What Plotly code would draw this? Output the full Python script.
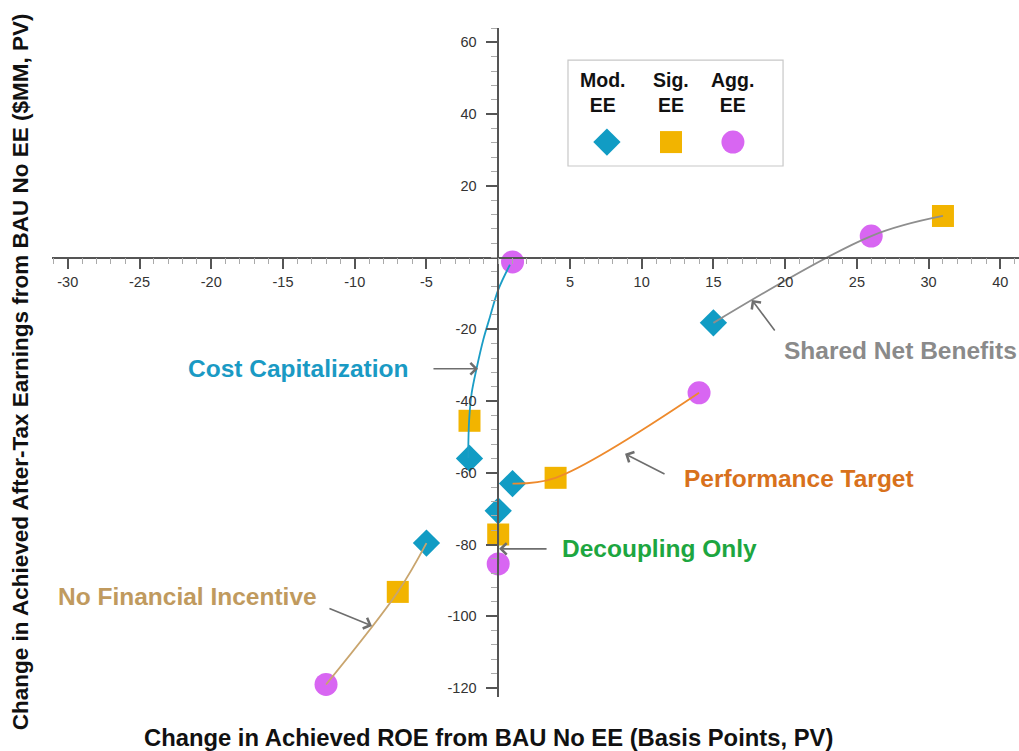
import plotly.graph_objects as go

# ---------------- data ----------------
scenarios = ["Shared Net Benefits", "Cost Capitalization", "Performance Target",
             "Decoupling Only", "No Financial Incentive"]
mod_roe = [15, -2, 1, 0, -5]
mod_earn = [-18.2, -56, -63, -70.6, -79.6]
sig_roe = [31, -2, 4, 0, -7]
sig_earn = [11.6, -45.5, -61.4, -77.2, -93.2]
agg_roe = [26, 1, 14, 0, -12]
agg_earn = [6, -1.2, -37.7, -85.4, -119]

# Cost Capitalization curve
costcap_curve_roe = [-2.08, -2.08, -2.01, -1.85, -1.5, -1.04, -0.57, 0.0, 0.82]
costcap_curve_earn = [-55.9, -51.8, -44.3, -37.8, -30.8, -22.9, -16.5, -9.0, -2.0]

x_tickvals = [-30, -25, -20, -15, -10, -5, 5, 10, 15, 20, 25, 30, 35]
x_ticktext = ["-30", "-25", "-20", "-15", "-10", "-5", "5", "10", "15", "20", "25", "30", "40"]
y_tickvals = [-120, -100, -80, -60, -40, -20, 20, 40, 60]
y_ticktext = ["-120", "-100", "-80", "-60", "-40", "-20", "20", "40", "60"]

legend_names = ["Mod.<br>EE", "Sig.<br>EE", "Agg.<br>EE"]

x_title = "Change in Achieved ROE from BAU No EE (Basis Points, PV)"
y_title = "Change in Achieved After-Tax Earnings from BAU No EE ($MM, PV)"

# ---------------- styles ----------------
C_MOD = "#119cc4"
C_SIG = "#f2b400"
C_AGG = "#d866f2"
line_colors = ["#8e8e8e", "#1b9dc6", "#ee8a2c", "#21a84a", "#c9a56e"]
label_colors = ["#8a8a8a", "#1a9ac4", "#d8711c", "#1da640", "#c09a5e"]
FONT = "Liberation Sans, Arial, Helvetica, sans-serif"

XR = [-31.1, 36.3]
YR = [-122.5, 64.0]

fig = go.Figure()

# markers
fig.add_trace(go.Scatter(x=mod_roe, y=mod_earn, mode="markers", name="Mod. EE",
                         marker=dict(symbol="diamond", size=21, color=C_MOD, opacity=1,
                                     line=dict(width=0)), hoverinfo="skip"))
fig.add_trace(go.Scatter(x=sig_roe, y=sig_earn, mode="markers", name="Sig. EE",
                         marker=dict(symbol="square", size=22, color=C_SIG, opacity=1,
                                     line=dict(width=0)), hoverinfo="skip"))
fig.add_trace(go.Scatter(x=agg_roe, y=agg_earn, mode="markers", name="Agg. EE",
                         marker=dict(symbol="circle", size=23, color=C_AGG, opacity=1,
                                     line=dict(width=0)), hoverinfo="skip"))

# scenario curves (drawn on top of markers)
for i, name in enumerate(scenarios):
    if name == "Cost Capitalization":
        cx, cy = costcap_curve_roe, costcap_curve_earn
    else:
        pts = sorted([(mod_roe[i], mod_earn[i]), (sig_roe[i], sig_earn[i]),
                      (agg_roe[i], agg_earn[i])], key=lambda p: p[1])
        cx, cy = [p[0] for p in pts], [p[1] for p in pts]
    fig.add_trace(go.Scatter(x=cx, y=cy, mode="lines", name=name,
                             line=dict(color=line_colors[i], width=1.8, shape="spline", smoothing=1.0),
                             hoverinfo="skip"))

# legend markers on a small overlay axis
for lx, sym, sz, col in zip([0.181, 0.479, 0.767], ["diamond", "square", "circle"], [21, 22, 23],
                            [C_MOD, C_SIG, C_AGG]):
    fig.add_trace(go.Scatter(x=[lx], y=[0.226], xaxis="x2", yaxis="y2", mode="markers",
                             hoverinfo="skip",
                             marker=dict(symbol=sym, size=sz, color=col, opacity=1,
                                         line=dict(width=0))))

xpos = (0 - YR[0]) / (YR[1] - YR[0])
ypos = (0 - XR[0]) / (XR[1] - XR[0])

axis_common = dict(showgrid=False, zeroline=False, showline=True, linecolor="#555555", linewidth=1.5,
                   ticks="outside", ticklen=11, tickwidth=1.5, tickcolor="#555555",
                   tickfont=dict(family=FONT, size=14.5, color="#333333"), tickmode="array")

fig.update_layout(
    width=1019, height=751, autosize=False,
    margin=dict(l=52, r=0, t=28, b=54),
    paper_bgcolor="white", plot_bgcolor="white",
    showlegend=False,
    xaxis=dict(range=XR, anchor="free", position=xpos, domain=[0, 1],
               tickvals=x_tickvals, ticktext=x_ticktext,
               minor=dict(tickmode="linear", tick0=0, dtick=1, ticks="outside", ticklen=6,
                          tickwidth=1, tickcolor="#aaaaaa"),
               **axis_common),
    yaxis=dict(range=YR, anchor="free", position=ypos, domain=[0, 1],
               tickvals=y_tickvals, ticktext=y_ticktext, ticklabelstandoff=7,
               minor=dict(tickmode="linear", tick0=0, dtick=4, ticks="outside", ticklen=6,
                          tickwidth=1, tickcolor="#aaaaaa"),
               **axis_common),
    xaxis2=dict(domain=[0.5336, 0.756], range=[0, 1], visible=False, anchor="y2", fixedrange=True),
    yaxis2=dict(domain=[0.7937, 0.952], range=[0, 1], visible=False, anchor="x2", fixedrange=True),
)

# legend box
fig.add_shape(type="rect", xref="paper", yref="paper", x0=0.5336, x1=0.756, y0=0.7937, y1=0.952,
              line=dict(color="#c8c8c8", width=1.2), fillcolor="rgba(0,0,0,0)")
for lx, txt in zip([0.16, 0.479, 0.767], legend_names):
    fig.add_annotation(xref="x2", yref="y2", x=lx, y=0.69, text="<b>" + txt + "</b>", showarrow=False,
                       font=dict(family=FONT, size=19.5, color="#111111"), align="center")

# axis titles
fig.add_annotation(xref="paper", yref="paper", x=0.451, y=-0.06, text="<b>" + x_title + "</b>",
                   showarrow=False, font=dict(family=FONT, size=23.8, color="#111111"),
                   xanchor="center", yanchor="middle")
fig.add_annotation(xref="paper", yref="paper", x=-0.0331, y=0.487, text="<b>" + y_title + "</b>",
                   showarrow=False, textangle=-90, font=dict(family=FONT, size=22.5, color="#111111"),
                   xanchor="center", yanchor="middle")

# scenario labels
label_pos = [(19.8, -25.8, "left"), (-6.1, -30.8, "right"), (12.8, -61.7, "left"),
             (4.3, -81.2, "left"), (-30.8, -94.6, "left")]
for i, name in enumerate(scenarios):
    lx, ly, anc = label_pos[i]
    fig.add_annotation(x=lx, y=ly, text="<b>" + name + "</b>", showarrow=False, xanchor=anc,
                       yanchor="middle", font=dict(family=FONT, size=24.5, color=label_colors[i]))

# arrows (head at x,y ; tail offset ax, ay in px)
arrows = [(17.68, -11.8, 24, 32), (-1.41, -31.0, -46, 0), (8.84, -54.7, 41, 21),
          (0.06, -81.2, 49, 0), (-8.8, -102.7, -44, -18)]
for hx, hy, ax, ay in arrows:
    fig.add_annotation(x=hx, y=hy, ax=ax, ay=ay, text="", showarrow=True, arrowhead=4,
                       arrowsize=1.4, arrowwidth=1.6, arrowcolor="#6e6e6e", standoff=0)

fig.write_html("out.html", config={"displayModeBar": False},
               post_script="document.body.style.margin='0';")
